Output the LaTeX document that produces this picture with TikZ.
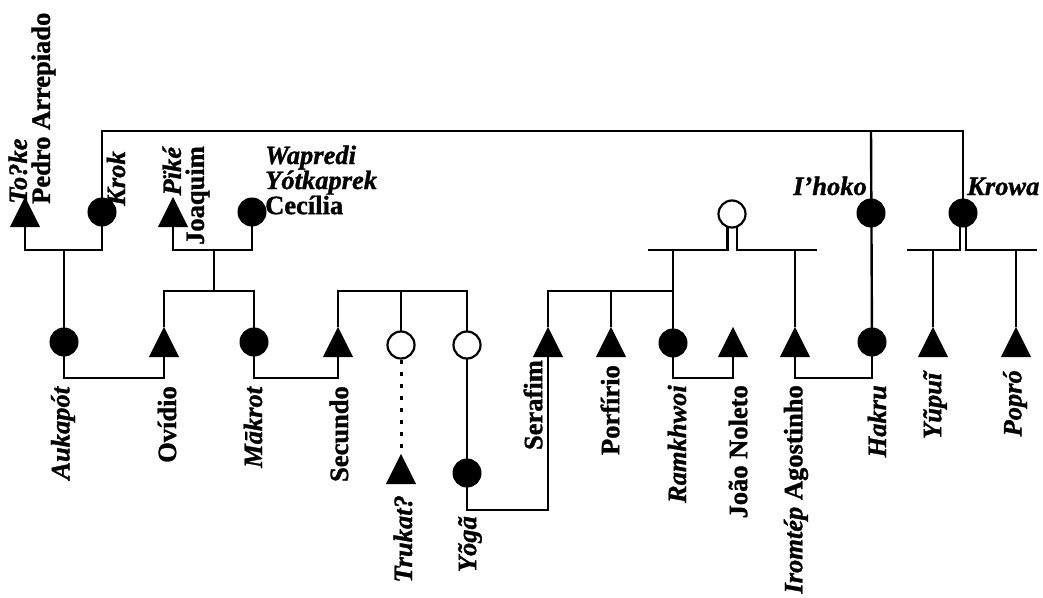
\documentclass[tikz,border=0pt]{standalone}
\usepackage{fontspec}
\setmainfont{Liberation Serif}[FakeBold=1.2]
\pgfdeclarelayer{back}
\pgfdeclarelayer{bg}
\pgfsetlayers{back,bg,main}
\tikzset{
  fc/.style={circle, fill=black, draw=black, line width=1pt, minimum size=28pt, inner sep=0pt},
  oc/.style={circle, fill=white, draw=black, line width=2.2pt, minimum size=27pt, inner sep=0pt},
  tri/.style={rectangle, minimum width=30pt, minimum height=30pt, inner sep=0pt},
  ln/.style={line width=2.4pt},
  dotln/.style={line width=3pt, dash pattern=on 4pt off 8pt},
  lbl/.style={font=\fontsize{26.5pt}{23pt}\selectfont\bfseries, inner sep=0pt},
  down/.style={lbl, rotate=90, anchor=east},
}
\begin{document}
\begin{tikzpicture}[x=1pt,y=-1pt]
\begin{pgfonlayer}{back}
\fill[white] (0,0) rectangle (1043,597);
\end{pgfonlayer}
\useasboundingbox (0,0) rectangle (1043,597);
% row 1
\node[tri] (toke) at (25,212) {};
\node[fc] (krok) at (102,212) {};
\node[tri] (pike) at (173,212) {};
\node[fc] (cecilia) at (252,212) {};
\node[oc] (ow) at (732,214) {};
\node[fc] (ihoko) at (871,213) {};
\node[fc] (krowa) at (963,213) {};
% row 2
\node[fc] (aukapot) at (64,342) {};
\node[tri] (ovidio) at (164,342) {};
\node[fc] (makrot) at (254,342) {};
\node[tri] (secundo) at (338,342) {};
\node[oc] (oc1) at (401,345) {};
\node[oc] (oc2) at (467,345) {};
\node[tri] (serafim) at (548,342) {};
\node[tri] (porfirio) at (611,342) {};
\node[fc] (ramkhwoi) at (673,343) {};
\node[tri] (joao) at (733,342) {};
\node[tri] (iromtep) at (795,342) {};
\node[fc] (hakru) at (872,342) {};
\node[tri] (yupui) at (933,342) {};
\node[tri] (popro) at (1016,342) {};
% row 3
\node[tri] (trukat) at (401,469) {};
\node[fc] (yoga) at (467,473) {};
% triangles
\foreach \n in {toke,pike,ovidio,secundo,serafim,porfirio,joao,iromtep,yupui,popro,trukat}
  \fill[black] (\n.south west) -- (\n.south east) -- (\n.north) -- cycle;
% levels
\coordinate (yT) at (0,131);
\coordinate (yA) at (0,250);
\coordinate (yB) at (0,291);
\coordinate (yM) at (0,378);
\coordinate (yY) at (0,510);
\coordinate (d2) at (214,250);
\coordinate (pl) at (648,250);
\coordinate (pr) at (817,250);
\coordinate (kl) at (907,250);
\coordinate (kr) at (1037,250);
\coordinate (owl) at ([xshift=-4.7pt]ow.center);
\coordinate (owr) at ([xshift=4.7pt]ow.center);
\coordinate (kwl) at ([xshift=-3.2pt]krowa.center);
\coordinate (kwr) at ([xshift=3.2pt]krowa.center);
\begin{pgfonlayer}{bg}
\draw[ln] (krok.center) -- (krok |- yT) -- (krowa |- yT) -- (krowa.center);
\draw[ln] (ihoko |- yT) -- (hakru.center);
% To?ke + Krok
\draw[ln] (toke.south) -- (toke.south |- yA) -- (krok |- yA) -- (krok.center);
\draw[ln] (aukapot.center) -- (aukapot |- yA);
% Pike + Cecilia
\draw[ln] (pike.south) -- (pike.south |- yA) -- (cecilia |- yA) -- (cecilia.center);
\draw[ln] (d2) -- (d2 |- yB);
\draw[ln] (ovidio.north) -- (ovidio.north |- yB) -- (makrot |- yB) -- (makrot.center);
% marriages
\draw[ln] (aukapot.center) -- (aukapot |- yM) -- (ovidio.south |- yM) -- (ovidio.south);
\draw[ln] (makrot.center) -- (makrot |- yM) -- (secundo.south |- yM) -- (secundo.south);
\draw[ln] (ramkhwoi.center) -- (ramkhwoi |- yM) -- (joao.south |- yM) -- (joao.south);
\draw[ln] (iromtep.south) -- (iromtep.south |- yM) -- (hakru |- yM) -- (hakru.center);
% Secundo group
\draw[ln] (secundo.north) -- (secundo.north |- yB) -- (oc2 |- yB) -- (oc2.center);
\draw[ln] (oc1 |- yB) -- (oc1.center);
\draw[dotln] (oc1.south) -- (trukat.north);
\draw[ln] (oc2.center) -- (yoga.center);
\draw[ln] (yoga.center) -- (yoga |- yY) -- (serafim.south |- yY) -- (serafim.south);
% Serafim group
\draw[ln] (serafim.north) -- (serafim.north |- yB) -- (ramkhwoi |- yB);
\draw[ln] (porfirio.north) -- (porfirio.north |- yB);
\draw[ln] (ramkhwoi.center) -- (ramkhwoi |- yA);
\draw[ln] (pl) -- (owl |- yA) -- (owl);
\draw[ln] (owr) -- (owr |- yA) -- (pr);
\draw[ln] (iromtep.north) -- (iromtep.north |- yA);
% Krowa group
\draw[ln] (kl) -- (kwl |- yA) -- (kwl);
\draw[ln] (kwr) -- (kwr |- yA) -- (kr);
\draw[ln] (yupui.north) -- (yupui.north |- yA);
\draw[ln] (popro.north) -- (popro.north |- yA);
\end{pgfonlayer}
% top labels
\node[lbl, rotate=90, anchor=west, align=left] (l-toke) at (32,204) {\textit{To?ke}\\Pedro Arrepiado};
\node[lbl, rotate=90, anchor=west] (l-krok) at (116,206) {\textit{Krok}};
\node[lbl, rotate=90, anchor=east, align=right] (l-pike) at (186,146) {\textit{Pïké}\\Joaquim};
\node[lbl, anchor=west, align=left] (l-cec) at (265,180) {\textit{Wapredi}\\\textit{Yótkaprek}\\Cecília};
\node[lbl, anchor=base east] (l-ihoko) at (867,195) {\textit{I’hoko}};
\node[lbl, anchor=base west] (l-krowa) at (967,195) {\textit{Krowa}};
% bottom labels
\node[down] (l-aukapot) at (63,386) {\textit{Aukapót}};
\node[down] (l-ovidio) at (167,386) {Ovídio};
\node[down] (l-makrot) at (253,386) {\textit{Mākrot}};
\node[down] (l-secundo) at (339,386) {Secundo};
\node[down] (l-trukat) at (403,495) {\textit{Trukat?}};
\node[down] (l-yoga) at (470,516) {\textit{Yõgã}};
\node[down] (l-serafim) at (533,360) {Serafim};
\node[down] (l-porfirio) at (610,365) {Porfírio};
\node[down] (l-ramkhwoi) at (677,385) {\textit{Ramkhwoi}};
\node[down] (l-joao) at (738,385) {João Noleto};
\node[down] (l-iromtep) at (796,385) {\textit{Iromtép} Agostinho};
\node[down] (l-hakru) at (877,385) {\textit{Hakru}};
\node[down] (l-yupui) at (935,370) {\textit{Yũpuĩ}};
\node[down] (l-popro) at (1015,370) {\textit{Popró}};
\end{tikzpicture}
\end{document}
